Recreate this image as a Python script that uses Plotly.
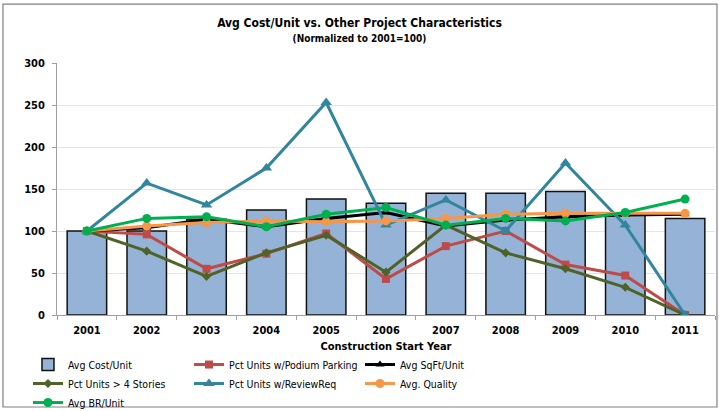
import plotly.graph_objects as go

years = ["2001", "2002", "2003", "2004", "2005", "2006", "2007", "2008", "2009", "2010", "2011"]
avg_cost = [100, 100, 114, 125, 138, 133, 145, 145, 147, 119, 115]
podium = [100, 96, 55, 73, 97, 43, 82, 100, 60, 47, 0]
sqft = [100, 104, 114, 105, 115, 122, 106, 113, 117, 119, 120]
stories = [100, 76, 46, 74, 95, 51, 107, 74, 55, 33, 0]
review = [100, 157, 131, 175, 253, 107, 137, 100, 181, 107, 0]
quality = [100, 106, 110, 112, 111, 112, 115, 120, 121, 121, 121]
br_unit = [100, 115, 117, 105, 120, 128, 107, 115, 112, 122, 138]

FONT = "DejaVu Sans Condensed, Roboto, sans-serif"

def f(size, bold=False):
    d = dict(family=FONT, size=size, color="#000000")
    if bold:
        d["weight"] = "bold"
    return d

fig = go.Figure()
fig.add_trace(go.Bar(x=years, y=avg_cost, name="Avg Cost/Unit", legend="legend",
                     marker=dict(color="#95b3d7", line=dict(color="#111111", width=1.5))))

def line(y, name, color, symbol, size, leg):
    fig.add_trace(go.Scatter(x=years, y=y, name=name, mode="lines+markers", legend=leg,
                             line=dict(color=color, width=3),
                             marker=dict(color=color, symbol=symbol, size=size)))

line(podium, "Pct Units w/Podium Parking", "#be4b48", "square", 8, "legend2")
line(sqft, "Avg SqFt/Unit", "#000000", "triangle-up", 8, "legend3")
line(stories, "Pct Units > 4 Stories", "#4f6228", "diamond", 7, "legend")
line(review, "Pct Units w/ReviewReq", "#31859c", "triangle-up", 10, "legend2")
line(quality, "Avg. Quality", "#f79646", "circle", 9, "legend3")
line(br_unit, "Avg BR/Unit", "#00b050", "circle", 9, "legend")

def leg(x):
    return dict(orientation="v", x=x, xanchor="left", y=-0.139, yanchor="top",
                font=f(10.5), itemwidth=30, traceorder="normal",
                bgcolor="rgba(0,0,0,0)")

fig.update_layout(
    width=719, height=411,
    margin=dict(l=57, r=4, t=63, b=96, autoexpand=False),
    paper_bgcolor="white", plot_bgcolor="white",
    font=f(11),
    title=dict(text="<b>Avg Cost/Unit vs. Other Project Characteristics</b><br><span style='font-size:10px'><b>(Normalized to 2001=100)</b></span>",
               x=0.5, xanchor="center", y=0.935, yanchor="top",
               font=f(12)),
    bargap=0.34,
    showlegend=True,
    legend=leg(-0.0441),
    legend2=leg(0.2006),
    legend3=leg(0.4605),
    xaxis=dict(type="category", showgrid=False, showline=True, linecolor="#a0a0a0", linewidth=1,
               ticks="outside", tickson="boundaries", ticklen=4, tickcolor="#a0a0a0",
               tickfont=f(11, True), ticklabelstandoff=5,
               title=dict(text="<b>Construction Start Year</b>", font=f(11), standoff=6),
               range=[-0.5, 10.5]),
    yaxis=dict(range=[0, 300], dtick=50, showgrid=True, gridcolor="#e2e2f2", gridwidth=1,
               showline=True, linecolor="#a0a0a0", linewidth=1, zeroline=False,
               ticks="outside", ticklen=4, tickcolor="#a0a0a0",
               tickfont=f(11, True), ticklabelstandoff=5),
    shapes=[dict(type="rect", xref="paper", yref="paper", x0=-0.0821, x1=1.003, y0=-0.365, y1=1.234,
                 line=dict(color="#808080", width=1.2), fillcolor="rgba(0,0,0,0)", layer="below")],
)

fig.write_html("out.html", config={"displayModeBar": False},
               post_script="document.body.style.margin='0';")
